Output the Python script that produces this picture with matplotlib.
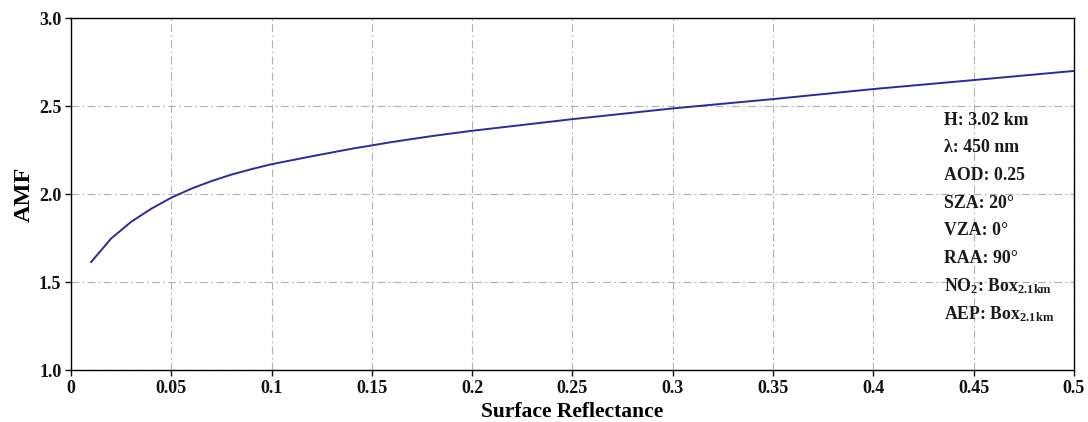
import numpy as np
import matplotlib.pyplot as plt
from matplotlib.ticker import FuncFormatter

plt.rcParams.update({
    'font.family': 'Liberation Serif',
    'font.weight': 'bold',
    'font.size': 13,
    'mathtext.fontset': 'custom',
    'mathtext.rm': 'Liberation Serif:bold',
    'mathtext.bf': 'Liberation Serif:bold',
    'mathtext.it': 'Liberation Serif:bold',
    'mathtext.default': 'bf',
})

# AMF vs surface reflectance
reflectance = [0.01, 0.02, 0.03, 0.04, 0.05, 0.06, 0.07, 0.08, 0.09, 0.10,
               0.12, 0.14, 0.16, 0.18, 0.20, 0.25, 0.30, 0.35, 0.40, 0.45, 0.50]
amf = [1.614, 1.748, 1.843, 1.917, 1.980, 2.031, 2.074, 2.111, 2.142, 2.170,
       2.215, 2.258, 2.296, 2.330, 2.360, 2.426, 2.487, 2.540, 2.597, 2.648, 2.700]

settings = ['H: 3.02 km', 'λ: 450 nm', 'AOD: 0.25', 'SZA: 20°', 'VZA: 0°',
            'RAA: 90°', r'NO$_{2}$: Box$_{2.1km}$', r'AEP: Box$_{2.1km}$']

fig = plt.figure(figsize=(10.88, 4.22), dpi=100)
ax = fig.add_axes([0.0653, 0.123, 0.9217, 0.834])

ax.plot(reflectance, amf, color='#2b2b9e', lw=1.4)

ax.set_xlim(0, 0.5)
ax.set_ylim(1.0, 3.0)
ax.set_xticks(np.arange(0, 0.51, 0.05))
ax.set_yticks(np.arange(1.0, 3.01, 0.5))
ax.xaxis.set_major_formatter(FuncFormatter(lambda v, p: f'{v:g}'))
ax.yaxis.set_major_formatter(FuncFormatter(lambda v, p: f'{v:.1f}'))
ax.tick_params(direction='out', length=4, width=1, pad=3, colors='#111111')
ax.grid(True, linestyle=(0, (7, 3, 1.5, 3)), color='#b0b0b0', lw=0.8)

for s in ax.spines.values():
    s.set_linewidth(1.0)

ax.set_xlabel('Surface Reflectance', fontsize=15.5, fontweight='bold', labelpad=4)
ax.set_ylabel('AMF', fontsize=17.5, fontweight='bold', labelpad=3)

# parameter list on the right
y0 = 3.0 - (120 - 18) / 176.0
dy = 27.7 / 176.0
for i, s in enumerate(settings):
    ax.text(0.4355, y0 - i * dy, s, fontsize=12.8, fontweight='bold',
            va='center', ha='left', color='#1a1a1a')

fig.savefig('out.png', dpi=100)
